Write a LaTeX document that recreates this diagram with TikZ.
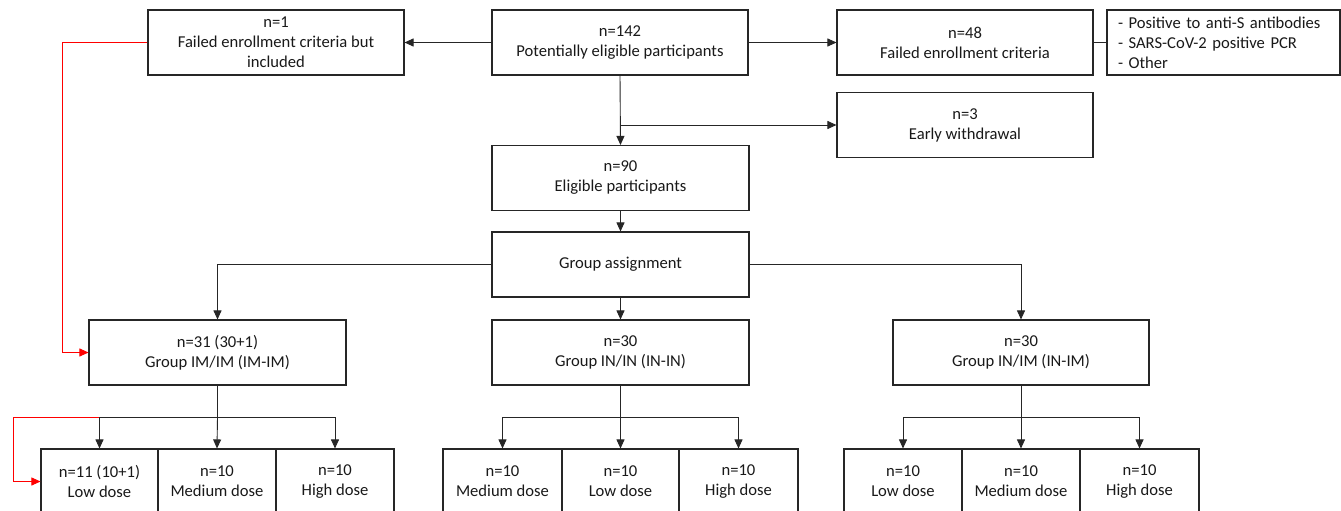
\documentclass[tikz,border=0pt]{standalone}
\usepackage{fontspec}
\setmainfont{Carlito}
\usetikzlibrary{arrows.meta}
\begin{document}
\begin{tikzpicture}[x=1pt,y=-1pt,
 box/.style={draw=black!85, line width=1.1pt, inner sep=0pt, align=center, font=\fontsize{16.6}{20}\selectfont, text=black!90, minimum height=65pt},
 arr/.style={-{Triangle[length=9pt,width=8pt]}, line width=0.9pt, draw=black!85},
 ln/.style={line width=0.9pt, draw=black!85},
 redarr/.style={-{Triangle[length=9pt,width=8pt]}, line width=0.9pt, draw=red}]
\useasboundingbox (0,0) rectangle (1341,511);
\clip (0,0) rectangle (1341,511);
\fill[white] (0,0) rectangle (1341,511);
% top row
\node[box, minimum width=256pt] (n1) at (276,42.5) {n=1\\Failed enrollment criteria but\\included};
\node[box, minimum width=256pt] (n142) at (620,42.5) {n=142\\Potentially eligible participants};
\node[box, minimum width=256pt] (n48) at (965,42.5) {n=48\\Failed enrollment criteria};
\node[box, text width=211pt, inner xsep=11pt, align=left] (list) at (1223.5,42.5) {- Positive to anti-S antibodies\\- SARS-CoV-2 positive PCR\\- Other};
\node[box, minimum width=256pt] (n3) at (965,125) {n=3\\Early withdrawal};
\node[box, minimum width=257pt] (n90) at (620.5,178) {n=90\\Eligible participants};
\node[box, minimum width=257pt] (ga) at (620.5,264.5) {Group assignment};
% groups
\node[box, minimum width=257pt] (g1) at (217.5,352.5) {n=31 (30+1)\\Group IM/IM (IM-IM)};
\node[box, minimum width=257pt] (g2) at (620.5,352.5) {n=30\\Group IN/IN (IN-IN)};
\node[box, minimum width=256pt] (g3) at (1021,352.5) {n=30\\Group IN/IM (IN-IM)};
% doses
\node[box, minimum width=117pt] (a1) at (99.5,481.5) {n=11 (10+1)\\Low dose};
\node[box, minimum width=118pt] (a2) at (217,481.5) {n=10\\Medium dose};
\node[box, minimum width=118pt] (a3) at (335,481.5) {n=10\\High dose};
\node[box, minimum width=119pt] (b1) at (502.5,481.5) {n=10\\Medium dose};
\node[box, minimum width=117pt] (b2) at (620.5,481.5) {n=10\\Low dose};
\node[box, minimum width=119pt] (b3) at (738.5,481.5) {n=10\\High dose};
\node[box, minimum width=118pt] (c1) at (903,481.5) {n=10\\Low dose};
\node[box, minimum width=118pt] (c2) at (1021,481.5) {n=10\\Medium dose};
\node[box, minimum width=119pt] (c3) at (1139.5,481.5) {n=10\\High dose};
% coordinates
\coordinate (r1) at (62,42.5);
\coordinate (r2) at (13,417);
\coordinate (j1) at (217.5,417);
\coordinate (j2) at (620.5,417);
\coordinate (j3) at (1021,417);
\coordinate (jw) at (620.5,125);
% connectors top
\draw[arr] (n142.west) -- (n1.east);
\draw[arr] (n142.east) -- (n48.west);
\draw[ln] (n48.east) -- (list.west);
\draw[arr] (n142.south) -- (n90.north);
\draw[arr] (jw) -- (n3.west);
\draw[arr] (n90.south) -- (ga.north);
\draw[arr] (ga.west) -| (g1.north);
\draw[arr] (ga.east) -| (g3.north);
\draw[arr] (ga.south) -- (g2.north);
% red
\draw[redarr] (n1.west) -- (r1) |- (g1.west);
\draw[redarr] (j1) -- (r2) |- (a1.west);
% dose branches
\draw[ln] (g1.south) -- (j1);
\draw[arr] (j1) -| (a1.north);
\draw[arr] (j1) -- (a2.north);
\draw[arr] (j1) -| (a3.north);
\draw[ln] (g2.south) -- (j2);
\draw[arr] (j2) -| (b1.north);
\draw[arr] (j2) -- (b2.north);
\draw[arr] (j2) -| (b3.north);
\draw[ln] (g3.south) -- (j3);
\draw[arr] (j3) -| (c1.north);
\draw[arr] (j3) -- (c2.north);
\draw[arr] (j3) -| (c3.north);
\end{tikzpicture}
\end{document}
